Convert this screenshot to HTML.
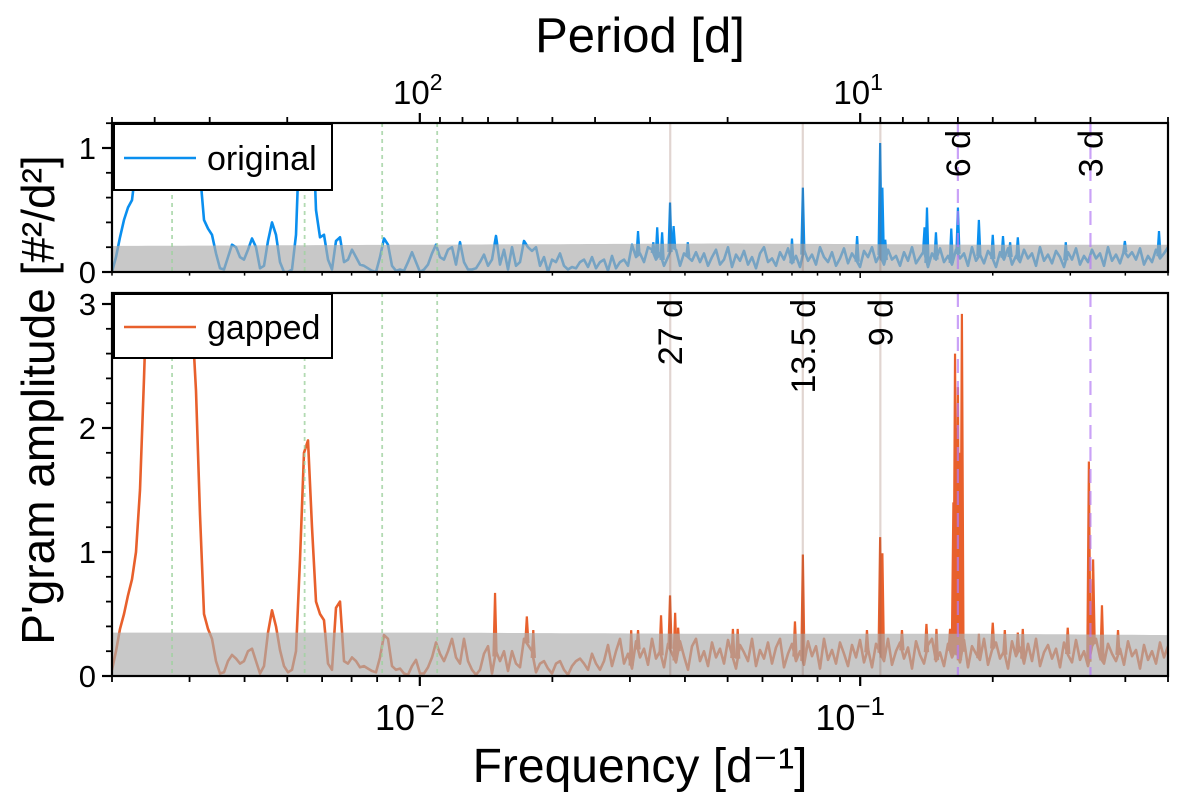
<!DOCTYPE html>
<html><head><meta charset="utf-8"><style>
html,body{margin:0;padding:0;background:#fff;}
svg{display:block;font-family:"Liberation Sans","DejaVu Sans",sans-serif;}
</style></head><body>
<svg id="chart" width="1200" height="800" viewBox="0 0 1200 800" xmlns="http://www.w3.org/2000/svg">
<defs>
<clipPath id="clipTop"><rect x="112" y="123" width="1056" height="149"/></clipPath>
<clipPath id="clipBot"><rect x="112" y="293" width="1056" height="383"/></clipPath>
</defs>
<g id="gTop"></g>
<g id="gBot"></g>
<g id="gAxes"></g>
<text x="640" y="52" font-size="49" text-anchor="middle">Period [d]</text>
<text x="640" y="782" font-size="48" text-anchor="middle">Frequency [d⁻¹]</text>
<text transform="translate(54,400) rotate(-90)" font-size="46" text-anchor="middle">P'gram amplitude [#²/d²]</text>
<g>
<rect x="114" y="124" width="218" height="66" fill="#fff" stroke="#000" stroke-width="2"/>
<line x1="124" y1="158" x2="196" y2="158" stroke="#0a8fef" stroke-width="2.6"/>
<text x="207" y="170" font-size="34">original</text>
</g>
<g>
<rect x="114" y="294" width="218" height="64" fill="#fff" stroke="#000" stroke-width="2"/>
<line x1="124" y1="327" x2="196" y2="327" stroke="#e8602c" stroke-width="2.6"/>
<text x="207" y="339" font-size="34">gapped</text>
</g>
</svg>
<script>
const FMIN = 0.002, FMAX = 0.5;
const originalLow = [0,0.12,0.28,0.42,0.52,0.58,0.85,1.3,2.0,2.6,2.9,3.0,3.0,2.9,2.7,2.5,2.3,2.1,2.0,1.9,1.7,1.4,0.8,0.42,0.35,0.3,0.15,0.03,0.02,0.12,0.22,0.2,0.12,0.1,0.18,0.27,0.2,0.03,0.05,0.25,0.4,0.3,0.08,0.0,0.0,0.02,0.3,1.2,1.8,1.9,1.4,0.5,0.28,0.3,0.1,0.02,0.25,0.28,0.08,0.1,0.18,0.12,0.06,0.05,0.03,0.01,0.0,0.12,0.27,0.22,0.05,0.01,0.02,0.01,0.08,0.16,0.08,0.0,0.02,0.06,0.15,0.22,0.12,0.1,0.18,0.2,0.06,0.24,0.08,0.02,0.02,0.03,0.08,0.14,0.05,0.1,0.29,0.06,0.18,0.02,0.2,0.05,0.08,0.25,0.2,0.17,0.2,0.05,0.12,0.0,0.1,0.08,0.15,0.05,0.02,0.04,0.03,0.08,0.1,0.04,0.12,0.03,0.08,0.1,0.01,0.13,0.03,0.08,0.1,0.05,0.22,0.12,0.15,0.08,0.2,0.18,0.1,0.15,0.05,0.12,0.2,0.18,0.05,0.15,0.12,0.09,0.16];
const originalHigh = [0.08,0.15,0.05,0.12,0.18,0.06,0.1,0.2,0.04,0.14,0.09,0.17,0.06,0.12,0.03,0.15,0.2,0.08,0.11,0.05,0.16,0.1,0.19,0.07,0.13,0.04,0.18,0.09,0.14,0.06,0.2,0.12,0.08,0.16,0.05,0.11,0.19,0.07,0.15,0.1,0.04,0.17,0.12,0.2,0.08,0.14,0.06,0.18,0.1,0.13,0.05,0.16,0.09,0.2,0.07,0.12,0.17,0.04,0.15,0.1,0.19,0.08,0.13,0.06,0.18,0.11,0.15,0.05,0.2,0.09,0.14,0.07,0.17,0.12,0.04,0.16,0.1,0.19,0.06,0.13,0.08,0.18,0.11,0.15,0.05,0.2,0.09,0.14,0.07,0.17,0.12,0.04,0.16,0.1,0.19,0.06,0.13,0.08,0.18,0.11,0.15,0.05,0.2,0.09,0.14,0.07,0.17,0.12,0.16,0.1,0.19,0.06,0.13,0.08,0.18,0.11,0.15,0.2];
const gappedLow = [0.05,0.2,0.38,0.5,0.65,0.78,1.0,1.5,2.4,3.4,4.0,4.2,4.2,4.1,4.0,3.9,3.8,3.7,3.6,3.4,2.9,2.3,1.3,0.5,0.38,0.3,0.12,0.02,0.03,0.12,0.17,0.14,0.1,0.12,0.2,0.22,0.12,0.02,0.08,0.35,0.53,0.4,0.21,0.08,0.03,0.05,0.2,0.94,1.8,1.9,1.2,0.6,0.5,0.45,0.1,0.05,0.55,0.6,0.12,0.1,0.15,0.12,0.07,0.08,0.06,0.04,0.03,0.15,0.33,0.3,0.08,0.05,0.06,0.02,0.01,0.08,0.13,0.02,0.02,0.07,0.15,0.27,0.18,0.12,0.2,0.3,0.15,0.1,0.3,0.12,0.05,0.01,0.05,0.18,0.24,0.02,0.2,0.12,0.2,0.04,0.2,0.1,0.07,0.3,0.25,0.2,0.03,0.1,0.12,0.06,0.02,0.1,0.12,0.05,0.01,0.08,0.12,0.14,0.1,0.05,0.18,0.1,0.05];
const gappedHigh = [0.12,0.25,0.08,0.2,0.3,0.1,0.18,0.06,0.28,0.15,0.22,0.09,0.3,0.14,0.2,0.07,0.26,0.18,0.11,0.28,0.16,0.05,0.24,0.3,0.12,0.2,0.08,0.27,0.15,0.22,0.1,0.29,0.17,0.06,0.25,0.19,0.12,0.3,0.08,0.21,0.14,0.27,0.1,0.23,0.3,0.07,0.18,0.26,0.12,0.2,0.09,0.28,0.16,0.24,0.06,0.3,0.13,0.21,0.1,0.27,0.18,0.08,0.25,0.15,0.29,0.11,0.22,0.07,0.26,0.19,0.12,0.3,0.09,0.2,0.27,0.14,0.23,0.06,0.28,0.17,0.1,0.25,0.3,0.12,0.19,0.08,0.26,0.15,0.22,0.11,0.29,0.07,0.24,0.18,0.13,0.3,0.09,0.21,0.27,0.14,0.2,0.06,0.28,0.16,0.23,0.1,0.26,0.12,0.3,0.08,0.19,0.25,0.14,0.22,0.07,0.27,0.17,0.11,0.29,0.13,0.2,0.08,0.24,0.3,0.15,0.1,0.26,0.18,0.12,0.22,0.09,0.28,0.16,0.21,0.06,0.25,0.13,0.2,0.1,0.27,0.15,0.24];
const originalPeakFreq = [0.0313,0.0339,0.0346,0.0355,0.037,0.0377,0.0406,0.070,0.0741,0.0984,0.111,0.1123,0.114,0.140,0.1418,0.1486,0.161,0.1667,0.186,0.2,0.211,0.219,0.228,0.293,0.399,0.477];
const originalPeakAmp  = [0.33,0.24,0.36,0.32,0.56,0.37,0.24,0.27,0.68,0.29,1.04,0.68,0.26,0.36,0.52,0.32,0.35,0.52,0.42,0.3,0.29,0.24,0.28,0.24,0.25,0.33];
const gappedPeakFreq = [0.01482,0.0175,0.0181,0.0302,0.0313,0.0353,0.037,0.038,0.0386,0.0514,0.0527,0.0711,0.0741,0.1036,0.111,0.1123,0.1244,0.1414,0.149,0.160,0.1628,0.1642,0.1655,0.1667,0.168,0.1702,0.186,0.2,0.213,0.228,0.234,0.296,0.3306,0.338,0.354,0.385];
const gappedPeakAmp  = [0.67,0.48,0.37,0.37,0.37,0.49,0.65,0.51,0.39,0.38,0.38,0.44,0.98,0.37,1.12,0.99,0.37,0.42,0.38,0.38,1.4,2.6,2.0,2.33,1.8,2.92,0.34,0.43,0.37,0.35,0.38,0.39,1.73,0.94,0.57,0.37];
const thrFreq = [0.002,0.01,0.05,0.2,0.5];
const originalThr = [0.21,0.22,0.23,0.22,0.22];
const gappedThr = [0.35,0.35,0.34,0.34,0.33];
const yearHarmonics = [1,2,3,4];
const rotPeriods = [27,13.5,9];
const rotLabels = ["27 d","13.5 d","9 d"];
const dashPeriods = [6,3];
const dashLabels = ["6 d","3 d"];

const NS = "http://www.w3.org/2000/svg";
const X0=112, X1=1168;
const xS = f => X0 + (X1-X0)*Math.log(f/FMIN)/Math.log(FMAX/FMIN);
const yTop = v => 272 - 124*v;
const yBot = v => 676 - 124*v;
function mk(tag, attrs, parent){const e=document.createElementNS(NS,tag);for(const k in attrs)e.setAttribute(k,attrs[k]);parent.appendChild(e);return e;}
function gridF(n){const a=[];for(let i=0;i<n;i++)a.push(FMIN*Math.pow(FMAX/FMIN,i/(n-1)));return a;}
function interp(fs, vs, f){if(f<=fs[0])return vs[0];for(let i=1;i<fs.length;i++){if(f<=fs[i]){const t=(Math.log(f)-Math.log(fs[i-1]))/(Math.log(fs[i])-Math.log(fs[i-1]));return vs[i-1]+t*(vs[i]-vs[i-1]);}}return vs[vs.length-1];}

function drawPanel(g, clipId, ys, base, pf, pa, thr, color){
  const fs = gridF(base.length);
  const cg = mk('g',{'clip-path':'url(#'+clipId+')'},g);
  let d='';
  fs.forEach((f,i)=>{d+=(i?'L':'M')+xS(f).toFixed(1)+','+ys(base[i]).toFixed(1);});
  const line = mk('path',{d:d,fill:'none',stroke:color,'stroke-width':2.6,'stroke-linejoin':'round'},cg);
  
  
  pf.forEach((f,i)=>{
    const x=xS(f), b=interp(fs,base,f);
    const p = mk('path',{d:'M'+(x-1.6)+','+ys(b)+'L'+x+','+ys(pa[i])+'L'+(x+1.6)+','+ys(b),fill:color,stroke:color,'stroke-width':2.2,'stroke-linejoin':'miter'},cg);
    
    
  });
  let bd='M'+X0+','+ys(0);
  for(let i=0;i<=120;i++){const f=FMIN*Math.pow(FMAX/FMIN,i/120);bd+='L'+xS(f).toFixed(1)+','+ys(interp(thrFreq,thr,f)).toFixed(1);}
  bd+='L'+X1+','+ys(0)+'Z';
  const band = mk('path',{d:bd,fill:'rgb(172,172,172)','fill-opacity':0.667},cg);
  
  
}
drawPanel(document.getElementById('gTop'),'clipTop',yTop,originalLow.concat(originalHigh),originalPeakFreq,originalPeakAmp,originalThr,'#0a8fef');
drawPanel(document.getElementById('gBot'),'clipBot',yBot,gappedLow.concat(gappedHigh),gappedPeakFreq,gappedPeakAmp,gappedThr,'#e8602c');

const ax = document.getElementById('gAxes');
[[123,272],[293,676]].forEach(([a,b])=>{
  yearHarmonics.forEach(k=>{const x=xS(k/365.25);
    const l=mk('line',{x1:x,x2:x,y1:a,y2:b,stroke:'#9fd29f','stroke-width':1.8,'stroke-dasharray':'4,4',opacity:0.8},ax);
    
    });
  rotPeriods.forEach(p=>{const x=xS(1/p);
    const l=mk('line',{x1:x,x2:x,y1:a,y2:b,stroke:'#8b5a4a','stroke-width':2.2,opacity:0.25},ax);
    
    });
  dashPeriods.forEach(p=>{const x=xS(1/p);
    const l=mk('line',{x1:x,x2:x,y1:a,y2:b,stroke:'#b57cf5','stroke-width':2.2,'stroke-dasharray':'14,8',opacity:0.7},ax);
    
    });
});
rotPeriods.forEach((p,i)=>{const x=xS(1/p);
  const t=mk('text',{transform:'translate('+(x+12)+',299) rotate(-90)','font-size':34,'text-anchor':'end'},ax);t.textContent=rotLabels[i];
  
  });
dashPeriods.forEach((p,i)=>{const x=xS(1/p);
  const t=mk('text',{transform:'translate('+(x+12)+',130) rotate(-90)','font-size':34,'text-anchor':'end'},ax);t.textContent=dashLabels[i];
  
  });
[[123,272],[293,676]].forEach(([a,b])=>{
  const r=mk('rect',{x:X0,y:a,width:X1-X0,height:b-a,fill:'none',stroke:'#000','stroke-width':2.2},ax);
  
  });
for(let e=-3;e<=0;e++){for(let m=1;m<10;m++){const f=m*Math.pow(10,e);if(f<FMIN-1e-9||f>FMAX+1e-9)continue;
  const x=xS(f), L=(m===1)?10:6;
  mk('line',{x1:x,x2:x,y1:676,y2:676+L,stroke:'#000','stroke-width':m===1?2.2:1.8},ax);
  mk('line',{x1:x,x2:x,y1:272,y2:272+L*0.6,stroke:'#000','stroke-width':1.5},ax);
}}
for(let e=0;e<=3;e++){for(let m=1;m<10;m++){const p=m*Math.pow(10,e);const f=1/p;if(f<FMIN-1e-9||f>FMAX+1e-9)continue;
  const x=xS(f), L=(m===1)?10:6;
  mk('line',{x1:x,x2:x,y1:123,y2:123-L,stroke:'#000','stroke-width':m===1?2.2:1.8},ax);
}}
[[0.01,'−2'],[0.1,'−1']].forEach(([f,s])=>{const t=mk('text',{x:xS(f)-10,y:730,'font-size':36,'text-anchor':'middle'},ax);
  t.innerHTML='10<tspan dy="-15" font-size="26">'+s+'</tspan>';
  
  });
[[0.01,'2'],[0.1,'1']].forEach(([f,s])=>{const t=mk('text',{x:xS(f)-2,y:104,'font-size':33,'text-anchor':'middle'},ax);
  t.innerHTML='10<tspan dy="-14" font-size="23">'+s+'</tspan>';
  
  });
for(let v=0;v<=1.2001;v+=0.2){const y=yTop(v);const maj=Math.abs(v-Math.round(v))<1e-6;
  mk('line',{x1:X0,x2:X0-(maj?10:6),y1:y,y2:y,stroke:'#000','stroke-width':maj?2.2:1.8},ax);
  if(maj){const t=mk('text',{x:96,y:y+11,'font-size':31,'text-anchor':'end'},ax);t.textContent=Math.round(v);
    
    }}
for(let v=0;v<=3.0001;v+=0.2){const y=yBot(v);const maj=Math.abs(v-Math.round(v))<1e-6;
  mk('line',{x1:X0,x2:X0-(maj?10:6),y1:y,y2:y,stroke:'#000','stroke-width':maj?2.2:1.8},ax);
  if(maj){const t=mk('text',{x:96,y:y+11,'font-size':31,'text-anchor':'end'},ax);t.textContent=Math.round(v);
    
    }}
</script>
</body></html>
